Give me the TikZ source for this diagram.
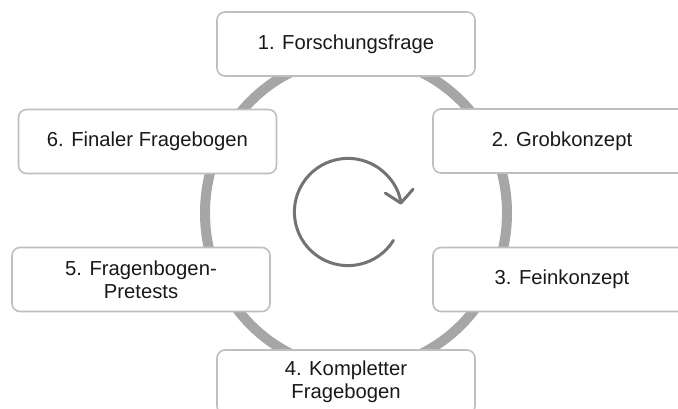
\documentclass[tikz,border=0pt]{standalone}
\usepackage{fontspec}
\setmainfont{Liberation Sans}
\usetikzlibrary{arrows.meta}

\definecolor{ringgray}{HTML}{A6A6A6}
\definecolor{boxline}{HTML}{BFBFBF}
\definecolor{icongray}{HTML}{737373}

\begin{document}
\begin{tikzpicture}[
    font=\fontsize{14.4}{16.3}\selectfont,
    phase/.style={draw=boxline,line width=0.04cm,fill=white,rounded corners=0.2cm,
      minimum width=6.45cm,minimum height=1.6cm,align=center,text=black!90}
  ]
  \useasboundingbox (0,0) rectangle (16.95,-10.225);
  \clip (0,0) rectangle (16.95,-10.225);

  % cycle ring behind the boxes
  \draw[ringgray,line width=0.25cm] (8.9,-5.325) ellipse (3.775 and 3.9);

  % rotation icon in the middle
  \draw[icongray,line width=0.075cm,line cap=round,
    -{Straight Barb[length=0.3cm,width=0.7cm,round]}]
    (8.7,-5.3) ++(-32:1.34) arc[start angle=-32,end angle=-352,radius=1.34];

  % the six phases, clockwise from the top
  \node[phase] (frage)   at (8.65,-1.1)     {1. Forschungsfrage};
  \node[phase] (grob)    at (14.05,-3.525)  {2. Grobkonzept};
  \node[phase] (fein)    at (14.05,-6.9875) {3. Feinkonzept};
  \node[phase] (komplett) at (8.65,-9.55)   {4. Kompletter\\Fragebogen};
  \node[phase] (pretest) at (3.525,-6.9875) {5. Fragenbogen-\\Pretests};
  \node[phase] (final)   at (3.6875,-3.5375) {6. Finaler Fragebogen};
\end{tikzpicture}
\end{document}
